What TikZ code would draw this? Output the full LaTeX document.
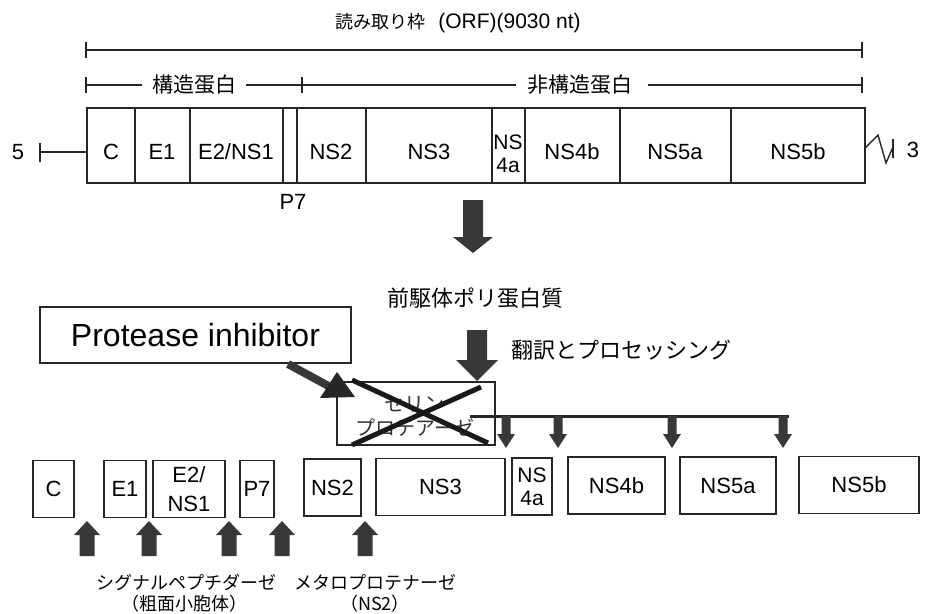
\documentclass[tikz,border=0pt]{standalone}
\usepackage{fontspec}
\setmainfont{Liberation Sans}
\newfontfamily\cjk{Noto Sans CJK JP}
\newcommand{\fatarrow}[6]{%
  \fill[arrowfill] (#1-#5,#2) -- (#1+#5,#2) -- (#1+#5,#3) -- (#1+#6,#3) -- (#1,#4)
     -- (#1-#6,#3) -- (#1-#5,#3) -- cycle;}
\begin{document}
\begin{tikzpicture}[x=1pt,y=-1pt,
  thinline/.style={line width=1.4pt,black!85},
  lab/.style={font=\fontsize{22}{24}\selectfont,inner sep=0pt},
  jlab/.style={font=\cjk\fontsize{20}{22}\selectfont,inner sep=0pt},
  jsmall/.style={font=\cjk\fontsize{18}{20}\selectfont,inner sep=0pt},
  pbox/.style={draw,line width=1.6pt,black!85,text=black,minimum height=57pt,inner sep=0pt,
     font=\fontsize{22}{24}\selectfont,align=center},
  arrowfill/.style={fill=black!78},
  crossline/.style={line width=5pt,black!90}
]
\useasboundingbox (0,0) rectangle (926,613);

% title and ORF line
\node[inner sep=0pt] (title) at (458,23)
  {{\cjk\fontsize{18}{20}\selectfont 読み取り枠}\hspace{13pt}{\fontsize{21}{23}\selectfont (ORF)(9030 nt)}};
\coordinate (orfL) at (86,50);
\coordinate (orfR) at (862,50);
\draw[thinline] (orfL) -- (orfR);
\draw[thinline] (86,42) -- (86,58);
\draw[thinline] (862,42) -- (862,58);

% structural / non-structural
\node[jlab,font=\cjk\fontsize{21}{23}\selectfont] (kozo) at (194,85) {構造蛋白};
\node[jlab,font=\cjk\fontsize{21}{23}\selectfont] (hikozo) at (580,85) {非構造蛋白};
\coordinate (sL) at (86,85);
\coordinate (sM) at (302,85);
\coordinate (sR) at (862,85);
\draw[thinline] (sL) -- ([xshift=-10pt]kozo.west);
\draw[thinline] ([xshift=10pt]kozo.east) -- (sM) -- ([xshift=-11pt]hikozo.west);
\draw[thinline] ([xshift=15pt]hikozo.east) -- (sR);
\draw[thinline] (86,77) -- (86,93);
\draw[thinline] (302,77) -- (302,93);
\draw[thinline] (862,77) -- (862,93);

% genome bar
\draw[thinline] (87,108) rectangle (865,183);
\foreach \xx in {135,190,283,297,366,492,525,620,731}
  {\draw[thinline] (\xx,108) -- (\xx,183);}
\node[lab] (gC) at (111,152) {C};
\node[lab] (gE1) at (162,152) {E1};
\node[lab] (gE2) at (236,152) {E2/NS1};
\node[lab] (gNS2) at (331,152) {NS2};
\node[lab] (gNS3) at (429,152) {NS3};
\node[lab,align=center,font=\fontsize{21}{23}\selectfont] (gNS4a) at (508,154) {NS\\4a};
\node[lab] (gNS4b) at (572,152) {NS4b};
\node[lab] (gNS5a) at (675,152) {NS5a};
\node[lab] (gNS5b) at (798,152) {NS5b};
\node[lab] (gP7) at (293,202) {P7};

% 5' end
\node[lab] (five) at (18,152) {5};
\coordinate (fiveT) at (40,152);
\coordinate (barL) at (87,152);
\draw[thinline] (fiveT) -- (barL);
\draw[thinline] (40,143) -- (40,162);
% 3' end
\coordinate (barR) at (865,148);
\draw[thinline] (barR) -- (878,135) -- (886,163) -- (893,147);
\draw[thinline] (893,139) -- (893,158);
\node[lab] (three) at (913,150) {3};

% big arrow
\fatarrow{473}{200}{237}{253}{10}{20}

% precursor
\node[jlab,font=\cjk\fontsize{22}{24}\selectfont] (prec) at (475,298) {前駆体ポリ蛋白質};
\fatarrow{477}{330}{360}{381}{10}{21}
\node[jlab,font=\cjk\fontsize{22}{24}\selectfont,anchor=west] (proc) at (511,350) {翻訳とプロセッシング};

% protease inhibitor
\node[draw,line width=1.4pt,black!85,text=black,minimum width=311pt,minimum height=56pt,inner sep=0pt,
  font=\fontsize{32}{34}\selectfont] (pi) at (195.5,335) {Protease inhibitor};
\draw[line width=8pt,black!78] (288,364) -- (334,389);
\fill[black!85] (320,398) -- (337,372) -- (355,397) -- cycle;

% serine protease box
\node[draw,line width=1.2pt,black!85,minimum width=158pt,minimum height=63pt,inner sep=0pt] (ser) at (416,413.5) {};
\node[jlab,text=black!80] (ser1) at (414,404) {セリン};
\node[jlab,text=black!80] (ser2) at (415,428) {プロテアーゼ};
\draw[crossline] (352,380) -- (488,443);
\draw[crossline] (352,445) -- (481,387);

% bracket and cleavage arrows
\coordinate (brL) at (470,416);
\coordinate (brR) at (789,416);
\draw[line width=3pt,black!85] (brL) -- (brR);
\foreach \xx in {506,558,672,783}
  {\fatarrow{\xx}{416}{434}{448}{4.5}{9}}

% mature proteins
\node[pbox,minimum width=41pt] (C) at (53.5,489) {C};
\node[pbox,minimum width=42pt] (E1) at (125,489) {E1};
\node[pbox,minimum width=72pt,font=\fontsize{22}{29}\selectfont] (E2) at (189,489) {E2/\\NS1};
\node[pbox,minimum width=34pt] (P7) at (257,489) {P7};
\node[pbox,minimum width=57pt] (NS2) at (332.5,487.5) {NS2};
\node[pbox,minimum width=129pt] (NS3) at (440.5,487) {NS3};
\node[pbox,minimum width=40pt,font=\fontsize{21}{23}\selectfont] (NS4a) at (532,486.5) {NS\\4a};
\node[pbox,minimum width=97pt] (NS4b) at (616.5,485.5) {NS4b};
\node[pbox,minimum width=96pt] (NS5a) at (728,485.5) {NS5a};
\node[pbox,minimum width=120pt] (NS5b) at (859,485) {NS5b};

% signal peptidase arrows
\foreach \xx in {87,149,229,282,365}
  {\fatarrow{\xx}{556}{535}{521}{7.5}{13}}

\node[jsmall] (sig) at (186,582) {シグナルペプチダーゼ};
\node[jsmall] (sig2) at (184,604) {（粗面小胞体）};
\node[jsmall] (meta) at (375,582) {メタロプロテナーゼ};
\node[jsmall] (meta2) at (375,604) {（NS2）};
\end{tikzpicture}
\end{document}
